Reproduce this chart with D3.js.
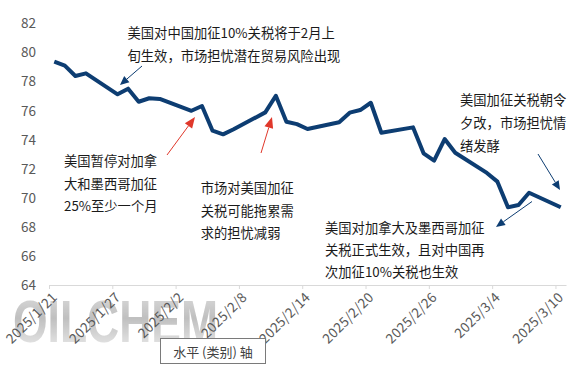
<!DOCTYPE html>
<html>
<head>
<meta charset="utf-8">
<script src="https://cdn.jsdelivr.net/npm/d3@7/dist/d3.min.js"></script>
<style>
  html, body { margin: 0; padding: 0; background: #fff; }
  svg { display: block; }
</style>
</head>
<body>
<svg id="chart" width="583" height="368"></svg>
<script>
// ---------- data ----------
const dates = ["2025-01-21","2025-01-22","2025-01-23","2025-01-24","2025-01-27","2025-01-28","2025-01-29","2025-01-30","2025-01-31",
  "2025-02-03","2025-02-04","2025-02-05","2025-02-06","2025-02-07","2025-02-10","2025-02-11","2025-02-12","2025-02-13","2025-02-14",
  "2025-02-17","2025-02-18","2025-02-19","2025-02-20","2025-02-21","2025-02-24","2025-02-25","2025-02-26","2025-02-27","2025-02-28",
  "2025-03-03","2025-03-04","2025-03-05","2025-03-06","2025-03-07","2025-03-10"];
const prices = [79.34,79.07,78.36,78.54,77.10,77.49,76.59,76.83,76.78,
  75.97,76.30,74.60,74.35,74.70,75.86,77.00,75.22,75.05,74.72,
  75.18,75.84,76.02,76.52,74.46,74.83,73.05,72.54,74.03,73.09,
  71.70,71.10,69.34,69.50,70.34,69.34];
const yTicks = [64,66,68,70,72,74,76,78,80,82];
const xTickLabels = ["2025/1/21","2025/1/27","2025/2/2","2025/2/8","2025/2/14","2025/2/20","2025/2/26","2025/3/4","2025/3/10"];
const notes = [
  ["美国对中国加征10%关税将于2月上","旬生效，市场担忧潜在贸易风险出现"],
  ["美国暂停对加拿","大和墨西哥加征","25%至少一个月"],
  ["市场对美国加征","关税可能拖累需","求的担忧减弱"],
  ["美国加征关税朝令","夕改，市场担忧情","绪发酵"],
  ["美国对加拿大及墨西哥加征","关税正式生效，且对中国再","次加征10%关税也生效"]
];
const axisTitle = "水平 (类别) 轴";
const watermark = "OILCHEM";

// ---------- layout ----------
const parse = d3.utcParse("%Y-%m-%d");
const svg = d3.select("#chart");
const axisY = 285, x0 = 49, x1 = 566;
const x = d3.scaleUtc().domain([parse("2025-01-21"), parse("2025-03-11")]).range([x0, x1]);
const y = d3.scaleLinear().domain([64, 82]).range([axisY, 23]);
const half = 12 * 3600 * 1000;
const pts = dates.map((d, i) => ({ t: new Date(parse(d).getTime() + half), v: prices[i] }));

const cjk = "'Noto Sans CJK SC', 'Microsoft YaHei', sans-serif";
const grey = "#595959";

// watermark
const defs = svg.append("defs");
const grad = defs.append("linearGradient").attr("id", "wm").attr("x1", 0).attr("y1", 0).attr("x2", 0).attr("y2", 1);
grad.append("stop").attr("offset", "0%").attr("stop-color", "#dcdcdc");
grad.append("stop").attr("offset", "45%").attr("stop-color", "#b9b9b9");
grad.append("stop").attr("offset", "100%").attr("stop-color", "#eeeeee");
svg.append("text")
  .attr("x", 13).attr("y", 342)
  .attr("font-family", "'Liberation Sans', Arial, sans-serif")
  .attr("font-weight", "bold").attr("font-size", 60)
  .attr("textLength", 205).attr("lengthAdjust", "spacingAndGlyphs")
  .attr("fill", "url(#wm)").attr("opacity", 0.9)
  .text(watermark);

// y axis labels
const yAxis = d3.axisLeft(y).tickValues(yTicks).tickSize(0).tickPadding(0).tickFormat(d3.format("d"));
const gy = svg.append("g").attr("transform", "translate(36,0)").call(yAxis);
gy.select(".domain").remove();
gy.selectAll("text").attr("font-family", cjk).attr("font-size", 13.5).attr("fill", grey).attr("dy", "0.35em");

// x axis
const tickDates = xTickLabels.map(s => d3.utcParse("%Y/%m/%d")(s));
const xAxis = d3.axisBottom(x).tickValues(tickDates).tickSize(4).tickSizeOuter(0)
  .tickFormat((d, i) => xTickLabels[i]);
const gx = svg.append("g").attr("transform", `translate(0,${axisY})`).call(xAxis);
gx.select(".domain").attr("stroke", "#d9d9d9");
gx.selectAll(".tick line").attr("stroke", "#d9d9d9");
gx.selectAll("text")
  .attr("font-family", cjk).attr("font-size", 13.6).attr("fill", grey)
  .attr("letter-spacing", 0.2)
  .attr("text-anchor", "end")
  .attr("transform", "translate(5,10) rotate(-45)")
  .attr("x", 0).attr("y", 0).attr("dy", "0.35em");

// line
const line = d3.line().x(d => x(d.t)).y(d => y(d.v));
svg.append("path").datum(pts)
  .attr("d", line).attr("fill", "none")
  .attr("stroke", "#0d3d72").attr("stroke-width", 4)
  .attr("stroke-linejoin", "round").attr("stroke-linecap", "butt");

// annotations
const noteLayout = [
  { x: 127.5, y: 32.5, lh: 22.5 },
  { x: 64, y: 160.8, lh: 22.5 },
  { x: 200.7, y: 187.5, lh: 22.5 },
  { x: 460, y: 99.7, lh: 22.7 },
  { x: 325, y: 227, lh: 22.2 }
];
notes.forEach((lines, i) => {
  const L = noteLayout[i];
  const t = svg.append("text").attr("font-family", cjk).attr("font-size", 13.3).attr("fill", "#1a1a1a");
  lines.forEach((s, j) => {
    t.append("tspan").attr("x", L.x).attr("y", L.y + j * L.lh).attr("dominant-baseline", "central").text(s);
  });
});

// arrows
function arrow(xa, ya, xb, yb, color, w, hl, hw) {
  const dx = xb - xa, dy = yb - ya, len = Math.hypot(dx, dy);
  const ux = dx / len, uy = dy / len;
  const bx = xb - ux * hl, by = yb - uy * hl;
  svg.append("line").attr("x1", xa).attr("y1", ya).attr("x2", bx).attr("y2", by)
    .attr("stroke", color).attr("stroke-width", w);
  const p = [[xb, yb], [bx - uy * hw / 2, by + ux * hw / 2], [bx + uy * hw / 2, by - ux * hw / 2]];
  svg.append("path").attr("d", "M" + p.map(q => q.join(",")).join("L") + "Z").attr("fill", color);
}
const blue = "#0d3d72", red = "#e0382b";
arrow(142, 66, 120, 85, blue, 1, 9, 8);
arrow(167, 155, 195, 117, red, 1, 11, 9);
arrow(261, 153, 272, 117, red, 1, 11, 9);
arrow(538, 154, 560, 190, blue, 1, 9, 8);
arrow(532, 201.5, 496, 227, blue, 1, 9, 8);

// axis title popup
const bx = 160, by = 338, bw = 105, bh = 25;
svg.append("rect").attr("x", bx + 0.5).attr("y", by + 0.5).attr("width", bw).attr("height", bh)
  .attr("fill", "#fff").attr("stroke", "#7a7a7a").attr("stroke-width", 1);
svg.append("text").attr("x", bx + bw / 2 + 0.5).attr("y", by + bh / 2 + 0.5)
  .attr("text-anchor", "middle").attr("dominant-baseline", "central")
  .attr("font-family", cjk).attr("font-size", 13).attr("fill", "#404040")
  .text(axisTitle);
</script>
</body>
</html>
